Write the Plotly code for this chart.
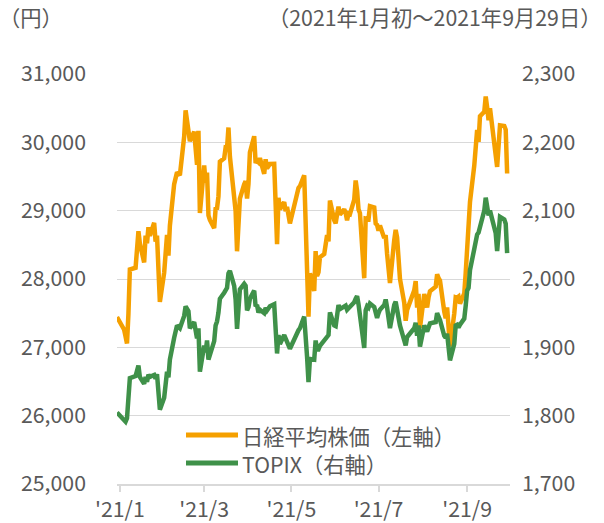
import plotly.graph_objects as go

# ---- data ----
trade_days = {
    "2020-12": [30],
    "2021-01": [4, 5, 6, 7, 8, 12, 13, 14, 15, 18, 19, 20, 21, 22, 25, 26, 27, 28, 29],
    "2021-02": [1, 2, 3, 4, 5, 8, 9, 10, 12, 15, 16, 17, 18, 19, 22, 24, 25, 26],
    "2021-03": [1, 2, 3, 4, 5, 8, 9, 10, 11, 12, 15, 16, 17, 18, 19, 22, 23, 24, 25, 26, 29, 30, 31],
    "2021-04": [1, 2, 5, 6, 7, 8, 9, 12, 13, 14, 15, 16, 19, 20, 21, 22, 23, 26, 27, 28, 30],
    "2021-05": [6, 7, 10, 11, 12, 13, 14, 17, 18, 19, 20, 21, 24, 25, 26, 27, 28, 31],
    "2021-06": [1, 2, 3, 4, 7, 8, 9, 10, 11, 14, 15, 16, 17, 18, 21, 22, 23, 24, 25, 28, 29, 30],
    "2021-07": [1, 2, 5, 6, 7, 8, 9, 12, 13, 14, 15, 16, 19, 20, 21, 26, 27, 28, 29, 30],
    "2021-08": [2, 3, 4, 5, 6, 10, 11, 12, 13, 16, 17, 18, 19, 20, 23, 24, 25, 26, 27, 30, 31],
    "2021-09": [1, 2, 3, 6, 7, 8, 9, 10, 13, 14, 15, 16, 17, 21, 22, 24, 27, 28, 29],
}
dates = [f"{ym}-{d:02d}" for ym, days in trade_days.items() for d in days]

nikkei = [
    27444.17,
    27258.38, 27158.63, 27055.94, 27490.13, 28139.03, 28164.34, 28456.59, 28698.26, 28519.18, 28242.21,
    28633.46, 28523.26, 28756.86, 28631.45, 28822.29, 28546.18, 28635.21, 28197.42, 27663.39,
    28091.05, 28362.17, 28646.50, 28341.95, 28779.19, 29388.50, 29505.93, 29562.93, 29520.07, 30084.15,
    30467.75, 30292.19, 30236.09, 30017.92, 30156.03, 29671.70, 30168.27, 28966.01,
    29663.50, 29408.17, 29559.10, 28930.11, 28864.32, 28743.25, 29027.94, 29036.56, 29211.64, 29717.83,
    29766.97, 29921.09, 29914.33, 30216.75, 29792.05, 29174.15, 28995.92, 28405.52, 28729.88, 29176.70,
    29384.52, 29432.70, 29178.80,
    29388.87, 29854.00, 30089.25, 29696.63, 29730.79, 29708.98, 29768.06, 29538.73, 29751.61, 29620.99,
    29642.69, 29683.37, 29685.37, 29100.38, 28508.55, 29188.17, 29020.63, 29126.23, 28991.89, 29053.97,
    28812.63,
    29331.37, 29357.82, 29518.34, 28608.59, 28147.51, 27448.01, 28084.47, 27824.83, 28406.84, 28044.45,
    28098.25, 28317.83, 28364.61, 28553.98, 28642.19, 28549.01, 29149.41, 28860.08,
    28814.34, 28946.14, 29058.11, 28941.52, 29019.24, 28963.56, 28860.80, 28958.56, 28948.73, 29161.80,
    29441.30, 29291.01, 29018.33, 28964.08, 28010.93, 28884.13, 28874.89, 28875.23, 29066.18, 29048.02,
    28812.61, 28791.53,
    28707.04, 28783.28, 28598.19, 28643.21, 28366.95, 28118.03, 27940.42, 28569.02, 28718.24, 28608.49,
    28279.09, 28003.08, 27652.74, 27388.16, 27548.00, 27833.29, 27970.22, 27581.66, 27782.42, 27283.59,
    27781.02, 27641.83, 27584.08, 27728.12, 27820.04, 27888.15, 28070.51, 28015.02, 27977.15, 27523.19,
    27424.47, 27585.91, 27281.17, 27013.25, 27494.24, 27732.10, 27724.80, 27742.29, 27641.14, 27789.29,
    28089.54,
    28451.02, 28543.51, 29128.11, 29659.89, 29916.14, 30181.21, 30008.19, 30381.84, 30447.37, 30670.10,
    30511.71, 30323.34, 30500.05, 29839.71, 29639.40, 30248.81, 30240.06, 30183.96, 29544.29,
]

topix = [
    1804.68,
    1794.59, 1791.22, 1796.18, 1826.30, 1854.94, 1857.94, 1864.40, 1873.28, 1856.68, 1846.58,
    1856.64, 1849.58, 1860.07, 1856.87, 1859.63, 1853.88, 1860.70, 1834.06, 1808.78,
    1826.06, 1849.02, 1864.18, 1856.00, 1882.00, 1914.00, 1924.00, 1932.00, 1928.00, 1946.00,
    1960.00, 1954.00, 1953.00, 1928.00, 1937.00, 1913.00, 1928.00, 1864.49,
    1902.48, 1892.71, 1910.00, 1882.00, 1888.00, 1909.00, 1932.00, 1938.00, 1951.00, 1971.00,
    1980.00, 1985.00, 1987.00, 2008.00, 2012.00, 1990.00, 1970.00, 1927.00, 1954.00, 1985.00,
    1993.00, 1990.00, 1954.00,
    1959.00, 1971.00, 1983.00, 1960.00, 1962.00, 1951.00, 1955.00, 1950.00, 1958.00, 1954.00,
    1956.00, 1960.00, 1963.00, 1929.00, 1891.00, 1918.00, 1905.00, 1918.00, 1913.00, 1906.00,
    1898.00,
    1925.00, 1928.00, 1945.00, 1899.00, 1886.00, 1849.00, 1883.00, 1882.00, 1910.00, 1897.00,
    1897.00, 1902.00, 1910.00, 1915.00, 1916.00, 1918.00, 1951.00, 1932.00,
    1931.00, 1948.00, 1962.00, 1956.00, 1960.00, 1961.00, 1955.00, 1957.00, 1958.00, 1966.00,
    1971.00, 1975.00, 1963.00, 1946.00, 1899.00, 1954.00, 1960.00, 1958.00, 1964.00, 1959.00,
    1953.00, 1943.00,
    1950.00, 1955.00, 1962.00, 1970.00, 1958.00, 1940.00, 1928.00, 1962.00, 1967.00, 1955.00,
    1940.00, 1932.00, 1910.00, 1903.00, 1915.00, 1928.00, 1936.00, 1917.00, 1932.00, 1901.00,
    1932.00, 1927.00, 1923.00, 1929.00, 1935.00, 1937.00, 1950.00, 1945.00, 1940.00, 1917.00,
    1914.00, 1920.00, 1900.00, 1881.00, 1905.00, 1932.00, 1933.00, 1929.00, 1933.00, 1942.00,
    1961.00,
    1983.00, 1987.00, 2013.00, 2044.00, 2056.00, 2065.00, 2068.00, 2077.00, 2100.00, 2119.00,
    2104.00, 2093.00, 2100.00, 2067.00, 2041.00, 2091.00, 2087.00, 2081.00, 2038.00,
]

x_tick_vals = ["2021-01-01", "2021-03-01", "2021-05-01", "2021-07-01", "2021-09-01"]
x_tick_text = ["'21/1", "'21/3", "'21/5", "'21/7", "'21/9"]
series_names = ["日経平均株価（左軸）", "TOPIX（右軸）"]
unit_label = "（円）"
period_label = "（2021年1月初～2021年9月29日）"

# ---- style ----
ORANGE = "#F5A000"
GREEN = "#3F9149"
TXT = "#595959"
GRID = "#D9D9D9"
FONT = "Noto Sans CJK JP"
FS = 21.3

W, H = 604, 523
# plot area in pixels: x 117..510, y 74..484
L, T = 117, 74
R = W - 510
B = H - 484
PW, PH = W - L - R, H - T - B


def px(xp):
    return (xp - L) / PW


def py(yp):
    return (H - B - yp) / PH


fig = go.Figure()
fig.add_trace(go.Scatter(x=dates, y=nikkei, mode="lines", name=series_names[0],
                         line=dict(color=ORANGE, width=4.5), showlegend=False))
fig.add_trace(go.Scatter(x=dates, y=topix, mode="lines", name=series_names[1], yaxis="y2",
                         line=dict(color=GREEN, width=4.5), showlegend=False))

fig.update_layout(
    width=W, height=H, autosize=False,
    margin=dict(l=L, r=R, t=T, b=B, pad=0, autoexpand=False),
    paper_bgcolor="white", plot_bgcolor="white",
    font=dict(family=FONT, size=FS, color=TXT),
    xaxis=dict(type="date", range=["2020-12-30", "2021-10-01"], automargin=False,
               tickvals=x_tick_vals, ticktext=x_tick_text,
               showgrid=False, zeroline=False, showline=True, linecolor=GRID, linewidth=1.5,
               ticks="outside", ticklen=6, tickcolor=GRID, tickwidth=1.5,
               tickfont=dict(size=FS, color=TXT)),
    yaxis=dict(range=[25000, 31000], dtick=1000, tickformat=",", automargin=False,
               showgrid=True, gridcolor=GRID, gridwidth=1.2, zeroline=False, showline=False,
               ticklabelstandoff=30, tickfont=dict(size=FS, color=TXT)),
    yaxis2=dict(range=[1700, 2300], dtick=100, tickformat=",", overlaying="y", side="right",
                automargin=False, showgrid=False, zeroline=False, showline=False,
                ticklabelstandoff=11, tickfont=dict(size=FS, color=TXT)),
    showlegend=False,
)

# legend drawn in paper coordinates
legend_rows = [(435, ORANGE, series_names[0]), (463, GREEN, series_names[1])]
for yy, col, name in legend_rows:
    fig.add_shape(type="line", xref="paper", yref="paper",
                  x0=px(186), x1=px(238), y0=py(yy), y1=py(yy),
                  line=dict(color=col, width=5))
    fig.add_annotation(xref="paper", yref="paper", x=px(240), y=py(yy),
                       xanchor="left", yanchor="middle", showarrow=False,
                       text=name, font=dict(size=FS, color=TXT, family=FONT))

fig.add_annotation(xref="paper", yref="paper", x=px(-3), y=py(16), xanchor="left", yanchor="middle",
                   showarrow=False, text=unit_label, font=dict(size=FS, color=TXT, family=FONT))
fig.add_annotation(xref="paper", yref="paper", x=px(604), y=py(16), xanchor="right", yanchor="middle",
                   showarrow=False, text=period_label, font=dict(size=FS, color=TXT, family=FONT))

# remove the default page margin so the 604x523 figure fills the window exactly
page_js = ("document.documentElement.style.margin='0';"
           "document.body.style.margin='0';"
           "document.body.style.overflow='hidden';"
           "document.documentElement.style.overflow='hidden';")

fig.write_html("out.html", post_script=page_js, config={"displayModeBar": False})
